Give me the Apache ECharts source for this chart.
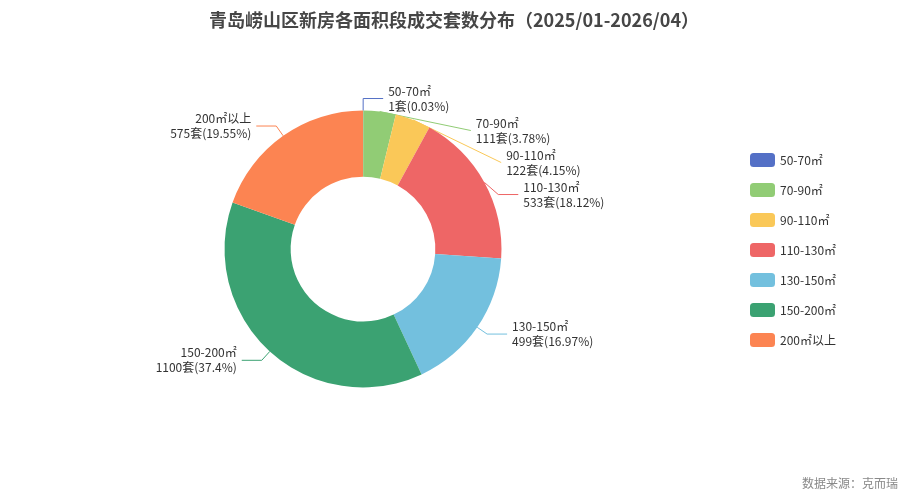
<!DOCTYPE html>
<html>
<head>
<meta charset="utf-8">
<script src="https://cdn.jsdelivr.net/npm/echarts@6/dist/echarts.min.js"></script>
<style>html,body{margin:0;padding:0;background:#fff}#main{width:908px;height:499px}</style>
</head>
<body>
<div id="main"></div>
<script>
var categories = ['50-70㎡', '70-90㎡', '90-110㎡', '110-130㎡', '130-150㎡', '150-200㎡', '200㎡以上'];
var counts = [1, 111, 122, 533, 499, 1100, 575];

var chart = echarts.init(document.getElementById('main'));
var data = categories.map(function (c, i) { return { name: c, value: counts[i] }; });
chart.setOption({
    backgroundColor: '#fff',
    color: ['#5470c6', '#91cc75', '#fac858', '#ee6666', '#73c0de', '#3ba272', '#fc8452'],
    title: {
        text: '青岛崂山区新房各面积段成交套数分布（2025/01-2026/04）',
        left: 'center',
        top: 6,
        textStyle: { fontSize: 18, fontWeight: 'bold', color: '#464646', fontFamily: 'Noto Sans CJK SC' }
    },
    graphic: [{
        type: 'text', right: 10, bottom: 10,
        style: { text: '数据来源：克而瑞', fill: '#888', fontSize: 12, fontFamily: 'Noto Sans CJK SC' }
    }],
    legend: {
        orient: 'vertical',
        left: 745,
        top: 148,
        itemWidth: 25,
        itemHeight: 14,
        itemGap: 16,
        textStyle: { fontSize: 12, color: '#333', fontFamily: 'Noto Sans CJK SC' },
        data: categories
    },
    series: [{
        type: 'pie',
        center: [363, 249],
        radius: ['29%', '55.5%'],
        label: {
            formatter: '{b}\n{c}套({d}%)',
            fontSize: 12,
            color: '#333',
            fontFamily: 'Noto Sans CJK SC',
            lineHeight: 15
        },
        labelLine: { length: 12, length2: 20 },
        data: data
    }]
});
</script>
</body>
</html>
